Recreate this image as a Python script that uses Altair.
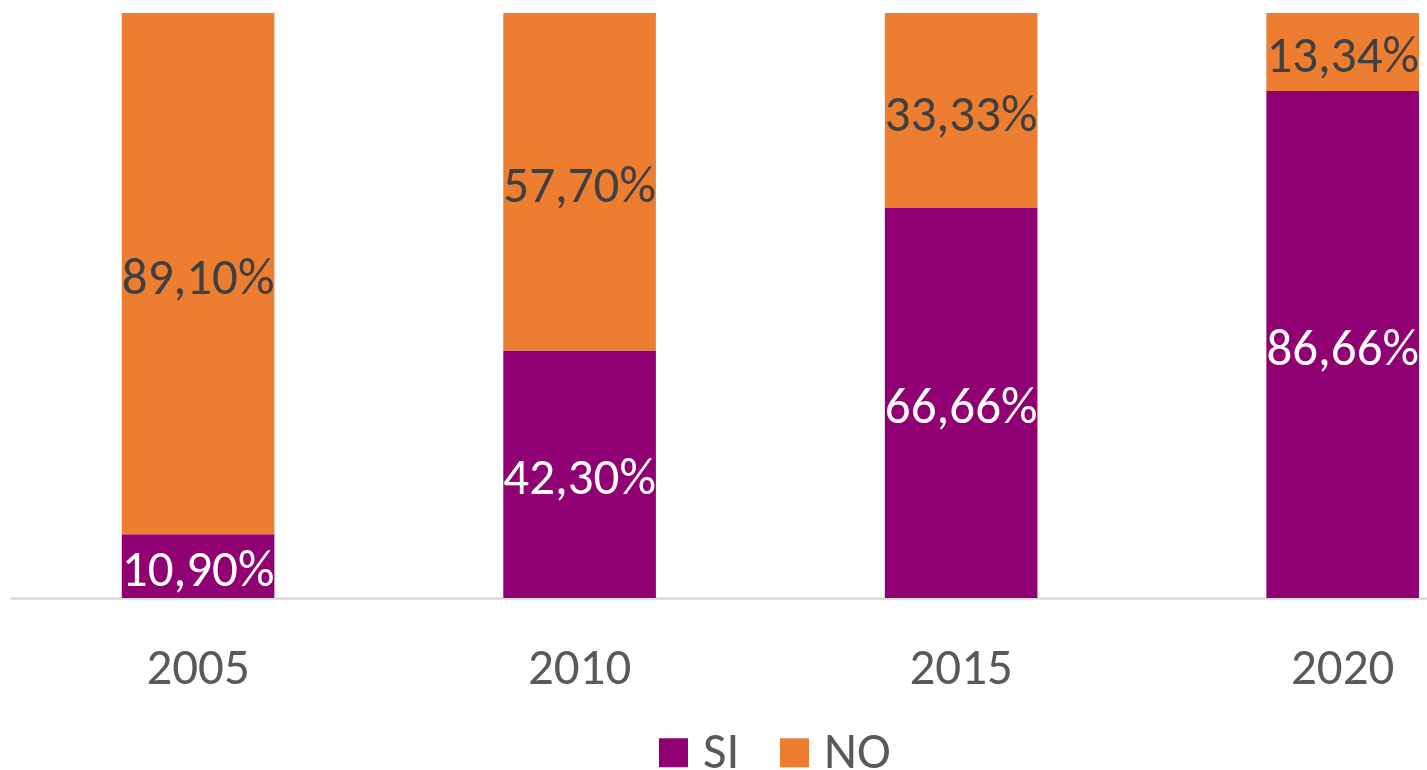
import altair as alt
import pandas as pd

years = ["2005", "2010", "2015", "2020"]
si = [10.90, 42.30, 66.66, 86.66]
no = [89.10, 57.70, 33.33, 13.34]
series = ["SI", "NO"]
colors = ["#900072", "#ED7D31"]

rows = []
for i, y in enumerate(years):
    for k, (s, vals) in enumerate(zip(series, [si, no])):
        v = vals[i]
        rows.append({"year": y, "series": s, "ord": k, "value": v,
                     "label": f"{v:.2f}".replace(".", ",") + "%"})
df = pd.DataFrame(rows)

FONT = "Carlito, Calibri, Liberation Sans"
FS = 51

base = alt.Chart(df).transform_stack(
    stack="value", groupby=["year"], as_=["y0", "y1"],
    sort=[alt.SortField("ord", order="ascending")]
).transform_calculate(mid="(datum.y0 + datum.y1) / 2")

xenc = alt.X("year:N", sort=years, title=None,
             scale=alt.Scale(paddingInner=0.6, paddingOuter=0.157, align=0.933),
             axis=alt.Axis(labelAngle=0, labelFont=FONT, labelFontSize=FS,
                           labelColor="#595959", ticks=False, tickSize=0,
                           labelPadding=45, domainColor="#D9D9D9",
                           domainWidth=2.5, grid=False))

yscale = alt.Scale(domain=[0, 100], nice=False, zero=True)

bars = base.mark_bar(stroke=None).encode(
    x=xenc,
    y=alt.Y("y0:Q", scale=yscale, axis=None),
    y2="y1:Q",
    color=alt.Color("series:N", scale=alt.Scale(domain=series, range=colors),
                    title=None,
                    legend=alt.Legend(orient="none", legendX=638, legendY=714,
                                      direction="horizontal", symbolType="square",
                                      symbolSize=841, symbolStrokeWidth=0,
                                      labelFont=FONT, labelFontSize=FS,
                                      labelColor="#595959", labelOffset=4,
                                      columnPadding=29, padding=0)),
)

texts = base.mark_text(fontSize=FS, font=FONT, baseline="middle", align="center", dy=5).encode(
    x=alt.X("year:N", sort=years),
    y=alt.Y("mid:Q", scale=yscale),
    text="label:N",
    color=alt.condition("datum.series == 'SI'", alt.value("white"), alt.value("#404040")),
)

chart = alt.layer(bars, texts).properties(
    width=1417, height=585,
    padding={"left": 10, "top": 13, "right": 0, "bottom": 172},
    autosize=alt.AutoSizeParams(type="none"),
).configure(background="white").configure_view(stroke=None, strokeWidth=0)

chart.save("out.html", embed_options={"renderer": "svg", "actions": False})
